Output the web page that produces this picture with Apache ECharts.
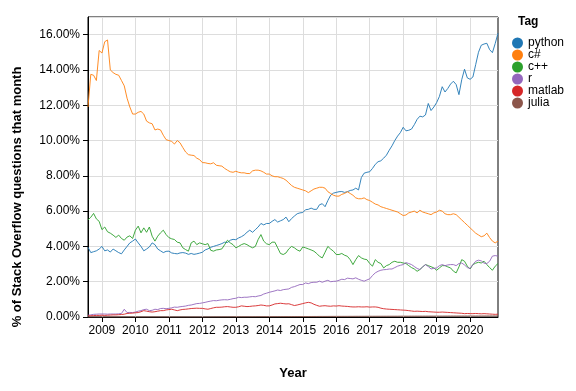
<!DOCTYPE html>
<html>
<head>
<meta charset="utf-8">
<script src="https://cdn.jsdelivr.net/npm/echarts@6.0.0/dist/echarts.min.js"></script>
<style>
html,body{margin:0;padding:0;background:#fff;}
#chart{width:576px;height:391px;}
</style>
</head>
<body>
<div id="chart"></div>
<script>
// Monthly categories: 2008-08 .. 2020-11 (148 months)
const startYear = 2008, startMonth = 8, monthCount = 148;
const months = [];
for (let i = 0; i < monthCount; i++) {
  const t = startMonth - 1 + i;
  const y = startYear + Math.floor(t / 12);
  const m = (t % 12) + 1;
  months.push(y + '-' + (m < 10 ? '0' + m : '' + m));
}

const tags = ['python', 'c#', 'c++', 'r', 'matlab', 'julia'];
const yTitle = '% of Stack Overflow questions that month';
const xTitle = 'Year';

const python = [
  3.95, 3.65, 3.7, 3.75, 3.85,
  4.0, 3.75, 3.8, 3.68, 3.85, 3.75, 3.65, 3.58, 3.8, 4.0, 4.2, 4.3,
  4.42, 4.2, 4.0, 3.75, 3.85, 3.97, 4.2, 4.1, 3.85, 3.75, 3.65, 3.72,
  3.73, 3.63, 3.6, 3.58, 3.63, 3.65, 3.62, 3.55, 3.6, 3.55, 3.58, 3.62,
  3.67, 3.8, 3.86, 3.95, 4.0, 4.05, 4.1, 4.16, 4.24, 4.22, 4.35, 4.4,
  4.38, 4.48, 4.55, 4.65, 4.8, 4.92, 4.8, 4.95, 5.1, 5.3, 5.22, 5.3,
  5.3, 5.42, 5.52, 5.38, 5.45, 5.52, 5.66, 5.4, 5.58, 5.72, 5.85, 5.9,
  5.92, 6.08, 6.1, 6.17, 6.1, 6.1, 6.36, 6.42, 6.25, 6.6, 6.9, 7.02,
  7.06, 7.1, 7.11, 7.06, 7.1, 7.17, 7.2, 7.3, 7.2, 7.9, 8.15, 8.2,
  8.23, 8.42, 8.65, 8.8, 8.85, 9.0, 9.17, 9.45, 9.7, 10.0, 10.25, 10.45,
  10.75, 10.55, 10.58, 10.65, 10.9, 11.2, 11.38, 11.34, 11.45, 12.1, 11.7, 11.9,
  12.15, 12.5, 13.05, 12.75, 12.95, 13.2, 13.36, 13.17, 12.6, 13.45, 14.04, 13.55,
  13.47, 13.6, 14.3, 15.0, 15.4, 15.47, 15.51, 15.15, 14.98, 15.5, 16.08
];

const csharp = [
  11.9, 13.75, 13.7, 13.4, 15.1,
  14.96, 15.6, 15.7, 14.0, 13.85, 13.75, 13.7, 13.4, 13.1, 12.4, 11.9, 11.5,
  11.5, 11.6, 11.65, 11.5, 11.1, 11.0, 10.95, 10.6, 10.65, 10.6, 10.3, 10.05,
  10.0, 9.95, 9.8, 10.0, 9.87, 9.6, 9.35, 9.2, 9.17, 9.15, 9.0, 8.92,
  8.75, 8.74, 8.7, 8.68, 8.74, 8.6, 8.57, 8.55, 8.42, 8.32, 8.23, 8.2,
  8.26, 8.2, 8.17, 8.17, 8.13, 8.13, 8.28, 8.32, 8.32, 8.28, 8.2, 8.1,
  8.1, 8.0, 7.95, 7.95, 7.9, 7.85, 7.75, 7.6, 7.45, 7.35, 7.3, 7.25,
  7.2, 7.15, 7.05, 7.15, 7.25, 7.3, 7.35, 7.35, 7.3, 7.1, 7.0, 6.9,
  6.85, 6.85, 6.95, 7.0, 7.1, 7.0, 6.9, 6.75, 6.7, 6.7, 6.75, 6.65,
  6.6, 6.5, 6.4, 6.35, 6.25, 6.2, 6.15, 6.1, 6.05, 6.0, 5.95, 5.85,
  5.75, 5.78, 5.9, 5.95, 6.0, 5.9, 6.05, 5.95, 5.9, 5.85, 5.8, 5.9,
  5.95, 6.05, 6.0, 5.85, 5.8, 5.8, 5.85, 5.8, 5.65, 5.5, 5.35, 5.2,
  5.05, 4.9, 4.75, 4.65, 4.55, 4.6, 4.75, 4.5, 4.3, 4.2, 4.3
];

const cpp = [
  5.5, 5.65, 5.87, 5.56, 5.42,
  4.95, 5.1, 4.83, 4.75, 4.64, 4.51, 4.64, 4.45, 4.35, 4.53, 4.6, 4.45,
  4.92, 5.15, 4.77, 5.05, 4.8, 5.1, 4.58, 4.3, 4.58, 4.77, 4.92, 4.67,
  4.5, 4.43, 4.39, 4.24, 4.2, 3.92, 3.82, 3.73, 4.2, 4.3, 4.1, 4.2,
  4.15, 4.1, 4.16, 3.78, 3.73, 3.8, 3.82, 3.86, 4.1, 4.35, 4.2, 4.1,
  3.92, 4.0, 4.1, 4.16, 4.1, 4.0, 3.92, 4.0, 4.39, 4.67, 4.3, 4.15,
  4.1, 4.24, 4.24, 3.92, 3.6, 3.54, 3.63, 3.86, 4.0, 3.92, 3.8, 3.73,
  3.97, 3.92, 3.86, 3.8, 3.73, 3.6, 3.44, 3.35, 3.67, 4.0, 3.85, 3.73,
  3.54, 3.54, 3.6, 3.5, 3.44, 3.25, 2.97, 3.25, 3.48, 3.35, 3.28, 3.25,
  3.03, 2.88, 3.25, 3.1, 3.03, 2.78, 2.91, 2.97, 3.1, 3.16, 3.1, 3.1,
  3.06, 3.03, 2.91, 2.8, 2.72, 2.59, 2.69, 2.84, 2.97, 2.91, 2.85, 2.78,
  2.65, 2.78, 2.91, 2.91, 2.84, 2.78, 2.6, 2.5, 2.84, 3.25, 3.16, 2.88,
  2.72, 2.97, 3.05, 3.1, 3.06, 3.16, 2.97, 2.8, 2.65, 2.88, 3.03
];

const rlang = [
  0.1, 0.12, 0.15, 0.16, 0.17,
  0.17, 0.17, 0.16, 0.17, 0.17, 0.17, 0.18, 0.2, 0.44, 0.25, 0.26, 0.25,
  0.28, 0.33, 0.36, 0.42, 0.44, 0.36, 0.38, 0.44, 0.42, 0.48, 0.49, 0.47,
  0.49, 0.52, 0.56, 0.55, 0.58, 0.6, 0.62, 0.66, 0.68, 0.72, 0.76, 0.77,
  0.8, 0.83, 0.87, 0.9, 0.93, 0.92, 0.95, 0.97, 0.98, 0.97, 1.0, 1.04,
  1.06, 1.12, 1.1, 1.12, 1.12, 1.14, 1.16, 1.15, 1.19, 1.22, 1.3, 1.35,
  1.4, 1.44, 1.48, 1.53, 1.5, 1.55, 1.57, 1.59, 1.68, 1.72, 1.78, 1.84,
  1.84, 1.93, 1.89, 1.95, 1.97, 1.97, 2.03, 1.97, 2.03, 2.08, 2.0, 2.02,
  2.03, 2.08, 2.14, 2.12, 2.2, 2.18, 2.16, 2.22, 2.14, 2.08, 2.03, 2.1,
  2.16, 2.35, 2.5, 2.59, 2.65, 2.68, 2.69, 2.72, 2.72, 2.8, 2.88, 2.93,
  2.97, 3.08, 3.03, 2.97, 2.86, 2.75, 2.69, 2.84, 2.97, 2.86, 2.72, 2.76,
  2.78, 2.91, 2.97, 2.91, 2.95, 2.97, 2.97, 2.91, 3.03, 3.06, 2.95, 2.8,
  2.75, 2.97, 3.16, 3.22, 3.18, 3.05, 3.03, 3.16, 3.45, 3.48, 3.45
];

const matlab = [
  0.06, 0.07, 0.08, 0.09, 0.09,
  0.1, 0.09, 0.1, 0.11, 0.12, 0.12, 0.13, 0.14, 0.16, 0.2, 0.21, 0.22,
  0.24, 0.25, 0.3, 0.36, 0.33, 0.3, 0.28, 0.3, 0.33, 0.36, 0.36, 0.4,
  0.42, 0.44, 0.4, 0.36, 0.4, 0.43, 0.44, 0.46, 0.48, 0.49, 0.5, 0.49,
  0.49, 0.46, 0.44, 0.48, 0.52, 0.55, 0.55, 0.56, 0.58, 0.59, 0.57, 0.55,
  0.55, 0.58, 0.63, 0.61, 0.59, 0.6, 0.62, 0.63, 0.65, 0.68, 0.66, 0.63,
  0.63, 0.68, 0.74, 0.76, 0.78, 0.76, 0.74, 0.75, 0.7, 0.65, 0.68, 0.72,
  0.76, 0.8, 0.83, 0.8, 0.72, 0.66, 0.61, 0.63, 0.64, 0.62, 0.61, 0.63,
  0.62, 0.64, 0.62, 0.61, 0.6, 0.58, 0.57, 0.57, 0.58, 0.57, 0.57, 0.58,
  0.56, 0.57, 0.57, 0.55, 0.5, 0.47, 0.45, 0.44, 0.43, 0.42, 0.41, 0.4,
  0.39, 0.38, 0.36, 0.34, 0.32, 0.33, 0.32, 0.31, 0.32, 0.3, 0.29, 0.28,
  0.27, 0.27, 0.28, 0.27, 0.26, 0.25, 0.24, 0.23, 0.22, 0.21, 0.19, 0.2,
  0.19, 0.19, 0.2, 0.19, 0.18, 0.19, 0.18, 0.17, 0.16, 0.15, 0.16
];

const julia = [
  0, 0, 0, 0, 0,
  0, 0, 0, 0, 0, 0, 0, 0, 0, 0, 0, 0,
  0, 0, 0, 0, 0, 0, 0, 0, 0, 0, 0, 0,
  0, 0, 0, 0, 0, 0, 0, 0, 0, 0, 0, 0,
  0, 0, 0.002, 0.004, 0.005, 0.006, 0.006, 0.007, 0.008, 0.008, 0.009, 0.01,
  0.01, 0.011, 0.012, 0.012, 0.013, 0.014, 0.014, 0.015, 0.016, 0.016, 0.017, 0.018,
  0.018, 0.019, 0.02, 0.021, 0.021, 0.022, 0.023, 0.023, 0.024, 0.025, 0.025, 0.026,
  0.027, 0.028, 0.028, 0.029, 0.03, 0.03, 0.031, 0.032, 0.032, 0.033, 0.034, 0.035,
  0.035, 0.036, 0.036, 0.037, 0.037, 0.038, 0.038, 0.039, 0.039, 0.04, 0.04, 0.041,
  0.041, 0.042, 0.042, 0.043, 0.043, 0.044, 0.044, 0.045, 0.045, 0.046, 0.046, 0.047,
  0.047, 0.048, 0.048, 0.049, 0.049, 0.05, 0.05, 0.05, 0.051, 0.051, 0.052, 0.052,
  0.053, 0.053, 0.054, 0.054, 0.055, 0.055, 0.056, 0.056, 0.057, 0.057, 0.058, 0.058,
  0.059, 0.059, 0.06, 0.06, 0.061, 0.061, 0.062, 0.062, 0.063, 0.063, 0.064
];

const seriesValues = [python, csharp, cpp, rlang, matlab, julia];
const colors = ['#1f77b4', '#ff7f0e', '#2ca02c', '#9467bd', '#d62728', '#8c564b'];

const FONT = '"Liberation Sans", Arial, Helvetica, sans-serif';
const isJan = (idx, val) => String(val).slice(5) === '01';

const chart = echarts.init(document.getElementById('chart'), null, {renderer: 'canvas'});
chart.setOption({
  animation: false,
  textStyle: {fontFamily: FONT},
  title: {
    text: 'Tag', left: 518, top: 16, padding: 0,
    textStyle: {fontSize: 12, fontWeight: 'bold', color: '#000', fontFamily: FONT}
  },
  graphic: [{
    type: 'text', x: 17, y: 197, rotation: Math.PI / 2, silent: true,
    style: {
      text: yTitle, fill: '#000', font: 'bold 13px ' + FONT,
      align: 'center', verticalAlign: 'middle'
    }
  }],
  legend: {
    orient: 'vertical', left: 512, top: 37, padding: 0,
    icon: 'circle', itemWidth: 11, itemHeight: 11, itemGap: 0,
    data: tags,
    textStyle: {fontSize: 12, lineHeight: 12, color: '#000', fontFamily: FONT}
  },
  grid: {
    left: 88, right: 78, top: 17, bottom: 74,
    show: true, borderColor: '#000', borderWidth: 1, backgroundColor: 'transparent'
  },
  xAxis: {
    type: 'category', data: months, boundaryGap: false,
    name: xTitle, nameLocation: 'middle', nameGap: 50,
    nameTextStyle: {fontSize: 13, fontWeight: 'bold', color: '#000', fontFamily: FONT},
    axisLine: {lineStyle: {color: '#000', width: 1}},
    axisTick: {show: true, interval: isJan, length: 5, lineStyle: {color: '#000'}},
    axisLabel: {interval: isJan, formatter: v => v.slice(0, 4), fontSize: 12, color: '#000', margin: 8, fontFamily: FONT},
    splitLine: {show: true, interval: isJan, lineStyle: {color: '#ddd', width: 1}}
  },
  yAxis: {
    type: 'value', min: 0, max: 17, interval: 2,
    axisLine: {show: true, lineStyle: {color: '#000', width: 1}},
    axisTick: {show: true, length: 5, lineStyle: {color: '#000'}},
    axisLabel: {formatter: v => v.toFixed(2) + '%', showMaxLabel: false, margin: 8, fontSize: 12, color: '#000', fontFamily: FONT},
    splitLine: {show: true, lineStyle: {color: '#ddd', width: 1}}
  },
  series: tags.map((t, i) => ({
    name: t, type: 'line', data: seriesValues[i],
    showSymbol: false, symbol: 'circle', symbolSize: 8,
    color: colors[i],
    lineStyle: {width: 1, color: colors[i], opacity: 0.9},
    emphasis: {disabled: true}
  }))
});
</script>
</body>
</html>
